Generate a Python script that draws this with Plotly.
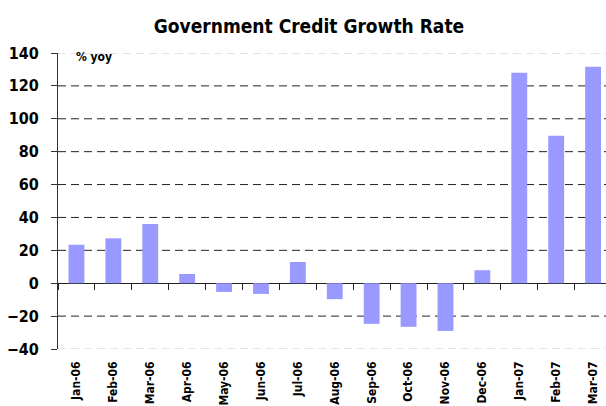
import plotly.graph_objects as go

# Monthly government credit growth, % year on year
months = ["Jan-06", "Feb-06", "Mar-06", "Apr-06", "May-06", "Jun-06", "Jul-06",
          "Aug-06", "Sep-06", "Oct-06", "Nov-06", "Dec-06", "Jan-07", "Feb-07", "Mar-07"]
growth = [23.4, 27.3, 36.0, 5.6, -5.3, -6.5, 12.9,
          -9.7, -24.7, -26.5, -29.0, 7.9, 128.0, 89.7, 131.7]

y_ticks = [-40, -20, 0, 20, 40, 60, 80, 100, 120, 140]

FONT = "DejaVu Sans Condensed, Liberation Sans Narrow, sans-serif"
BAR_COLOR = "#9999ff"

fig = go.Figure()
fig.add_trace(go.Bar(x=months, y=growth, marker=dict(color=BAR_COLOR, line=dict(width=0)),
                     width=0.43, showlegend=False, hoverinfo="x+y"))
# carrier trace for the tick axis that sits on the zero line
fig.add_trace(go.Scatter(x=months, y=growth, xaxis="x2", mode="none",
                         showlegend=False, hoverinfo="skip"))

# horizontal dashed grid: dark inside, pale at the frame edges
shapes = []
for v in y_ticks:
    if v == 0:
        continue
    edge = v in (y_ticks[0], y_ticks[-1])
    shapes.append(dict(type="line", xref="paper", x0=0, x1=1, yref="y", y0=v, y1=v,
                       line=dict(color="#c8c8c8" if edge else "#222222", width=1,
                                 dash="8px,5px"),
                       layer="below"))

zero_pos = (0 - y_ticks[0]) / (y_ticks[-1] - y_ticks[0])

fig.update_layout(
    width=606, height=406,
    margin=dict(l=58, r=0, t=53, b=57),
    paper_bgcolor="white", plot_bgcolor="white",
    font=dict(family=FONT, color="black"),
    title=dict(text="Government Credit Growth Rate", x=309 / 606, xref="container",
               y=1 - 26 / 406, yref="container", xanchor="center", yanchor="middle",
               font=dict(family=FONT, size=19, weight="bold", color="black")),
    shapes=shapes,
    xaxis=dict(type="category", range=[-0.5, 14.35], showline=False, showgrid=False,
               zeroline=False, ticks="", tickangle=-90, ticklabelstandoff=9,
               automargin=False,
               tickfont=dict(family=FONT, size=12, weight="bold", color="black")),
    xaxis2=dict(type="category", overlaying="x", matches="x", anchor="free",
                position=zero_pos, side="bottom", showline=False, showgrid=False,
                zeroline=False, showticklabels=False, ticks="outside", automargin=False,
                tickson="boundaries", ticklen=6, tickcolor="#222222", tickwidth=1),
    yaxis=dict(range=[y_ticks[0], y_ticks[-1]], tickmode="array", tickvals=y_ticks,
               showgrid=False, zeroline=True, zerolinecolor="#222222", zerolinewidth=1,
               showline=True, linecolor="#333333", linewidth=1, automargin=False,
               ticks="outside", ticklen=6, tickcolor="#333333", ticklabelstandoff=9,
               tickfont=dict(family=FONT, size=16, weight="bold", color="black")),
    annotations=[dict(text="% yoy", xref="paper", yref="paper", x=0.029, y=0.986,
                      xanchor="left", yanchor="middle", showarrow=False,
                      font=dict(family=FONT, size=12, weight="bold", color="black"))],
)

fig.write_html("out.html")
